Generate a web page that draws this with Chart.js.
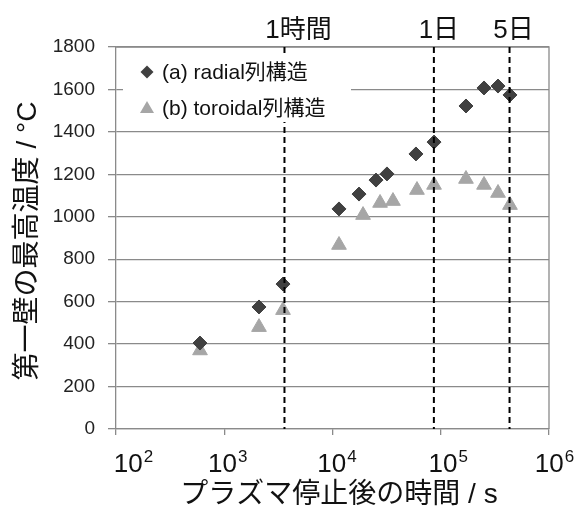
<!DOCTYPE html>
<html>
<head>
<meta charset="utf-8">
<script src="https://cdn.jsdelivr.net/npm/chart.js@4"></script>
<style>html,body{margin:0;padding:0;background:#fff}</style>
</head>
<body>
<canvas id="c" width="575" height="508"></canvas>
<script>
// first wall peak temperature vs. time after plasma shutdown
const FONT = "'Liberation Sans', 'Noto Sans CJK JP', sans-serif";
const GRID = '#8a8a8a';

const radialTime = [597, 2094, 3490, 11480, 17580, 25230, 31860, 59000, 86700, 171000, 251000, 338000, 436000];
const radialTemp = [405, 575, 683, 1037, 1107, 1173, 1202, 1296, 1352, 1522, 1607, 1616, 1574];
const toroidalTime = [597, 2094, 3490, 11480, 19150, 27500, 36200, 60300, 86700, 171000, 251000, 338000, 436000];
const toroidalTemp = [370, 480, 560, 867, 1008, 1065, 1074, 1126, 1150, 1178, 1150, 1112, 1055];

const seriesLabels = ['(a) radial列構造', '(b) toroidal列構造'];
const markerTimes = [3600, 86400, 432000];
const markerLabels = ['1時間', '1日', '5日'];
const xTickValues = [1e2, 1e3, 1e4, 1e5, 1e6];
const xTickExponents = ['2', '3', '4', '5', '6'];
const yTitle = '第一壁の最高温度 / °C';
const xTitle = 'プラズマ停止後の時間 / s';

// small horizontal nudges for text placed by hand in the original
const markerLabelShift = [14, 5, 4];
const xTickShift = [17, 3, 4, 7, 5];

function toPoints(xs, ys) {
  return xs.map((t, i) => ({ x: t, y: ys[i] }));
}

const decor = {
  id: 'decor',
  afterDatasetsDraw(chart) {
    const { ctx, chartArea: a, scales: { x } } = chart;
    ctx.save();
    // top and right frame
    ctx.strokeStyle = GRID;
    ctx.lineWidth = 1.3;
    ctx.beginPath();
    ctx.moveTo(a.left, a.top);
    ctx.lineTo(a.right, a.top);
    ctx.lineTo(a.right, a.bottom);
    ctx.stroke();

    // dashed time markers
    ctx.strokeStyle = '#000';
    ctx.lineWidth = 2;
    ctx.setLineDash([6, 4]);
    markerTimes.forEach(t => {
      const px = x.getPixelForValue(t);
      ctx.beginPath();
      ctx.moveTo(px, a.top);
      ctx.lineTo(px, a.bottom);
      ctx.stroke();
    });
    ctx.setLineDash([]);

    // legend box inside plot
    ctx.fillStyle = '#fff';
    ctx.fillRect(a.left + 7, a.top + 8, 228, 67);
    const mx = a.left + 31;
    const rows = [a.top + 25, a.top + 61];

    ctx.fillStyle = '#404040';
    ctx.beginPath();
    ctx.moveTo(mx - 6.5, rows[0]);
    ctx.lineTo(mx, rows[0] - 6.5);
    ctx.lineTo(mx + 6.5, rows[0]);
    ctx.lineTo(mx, rows[0] + 6.5);
    ctx.closePath();
    ctx.fill();

    ctx.fillStyle = '#a6a6a6';
    ctx.beginPath();
    ctx.moveTo(mx, rows[1] - 7);
    ctx.lineTo(mx + 7, rows[1] + 5);
    ctx.lineTo(mx - 7, rows[1] + 5);
    ctx.closePath();
    ctx.fill();

    ctx.fillStyle = '#111';
    ctx.font = '21px ' + FONT;
    ctx.textAlign = 'left';
    ctx.textBaseline = 'middle';
    seriesLabels.forEach((s, i) => ctx.fillText(s, mx + 15, rows[i] + 1));
    ctx.restore();
  },
  afterDraw(chart) {
    const { ctx, chartArea: a, scales: { x } } = chart;
    ctx.save();
    ctx.fillStyle = '#111';

    // labels above the dashed lines
    ctx.font = '26px ' + FONT;
    ctx.textAlign = 'center';
    ctx.textBaseline = 'alphabetic';
    markerTimes.forEach((t, i) => {
      ctx.fillText(markerLabels[i], x.getPixelForValue(t) + markerLabelShift[i], a.top - 9);
    });

    // x tick labels 10^n
    xTickValues.forEach((v, i) => {
      ctx.font = '26px ' + FONT;
      const w1 = ctx.measureText('10').width;
      ctx.font = '17px ' + FONT;
      const w2 = ctx.measureText(xTickExponents[i]).width;
      const left = x.getPixelForValue(v) + xTickShift[i] - (w1 + w2) / 2;
      ctx.textAlign = 'left';
      ctx.font = '26px ' + FONT;
      ctx.fillText('10', left, a.bottom + 43);
      ctx.font = '17px ' + FONT;
      ctx.fillText(xTickExponents[i], left + w1 + 1, a.bottom + 33);
    });

    // axis titles
    ctx.font = '28px ' + FONT;
    ctx.textAlign = 'center';
    ctx.textBaseline = 'middle';
    ctx.fillText(xTitle, 339, a.bottom + 66);

    ctx.translate(28, 241);
    ctx.rotate(-Math.PI / 2);
    ctx.fillText(yTitle, 0, 0);
    ctx.restore();
  }
};

new Chart(document.getElementById('c'), {
  type: 'scatter',
  data: {
    datasets: [
      {
        label: seriesLabels[0],
        data: toPoints(radialTime, radialTemp),
        pointStyle: 'rectRot',
        pointRadius: 7,
        backgroundColor: '#404040',
        borderColor: '#404040',
        borderWidth: 1
      },
      {
        label: seriesLabels[1],
        data: toPoints(toroidalTime, toroidalTemp),
        pointStyle: 'triangle',
        pointRadius: 8.5,
        backgroundColor: '#a6a6a6',
        borderColor: '#a6a6a6',
        borderWidth: 1
      }
    ]
  },
  options: {
    responsive: false,
    devicePixelRatio: 1,
    animation: false,
    layout: { padding: { top: 47, right: 26, left: 0, bottom: 0 } },
    plugins: { legend: { display: false }, tooltip: { enabled: false } },
    scales: {
      x: {
        type: 'logarithmic',
        min: 100,
        max: 1e6,
        afterBuildTicks: s => { s.ticks = xTickValues.map(v => ({ value: v })); },
        afterFit: s => { s.height = 79; },
        ticks: { display: false },
        grid: { drawOnChartArea: false, tickLength: 6, color: GRID, lineWidth: 1.3 },
        border: { color: GRID, width: 1.3 }
      },
      y: {
        min: 0,
        max: 1800,
        afterFit: s => { s.width = 116; },
        ticks: { stepSize: 200, callback: v => String(v), font: { family: FONT, size: 19 }, color: '#222', padding: 13 },
        grid: { color: GRID, lineWidth: 1.3, tickLength: 8 },
        border: { color: GRID, width: 1.3 }
      }
    }
  },
  plugins: [decor]
});
</script>
</body>
</html>
